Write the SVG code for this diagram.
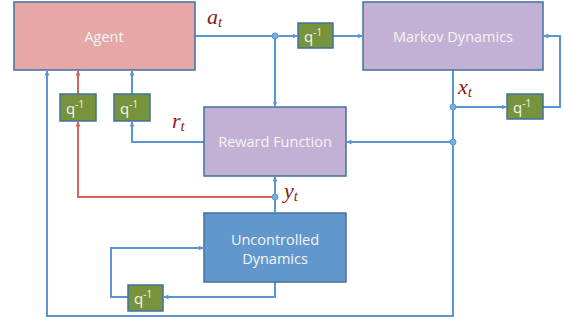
<svg xmlns="http://www.w3.org/2000/svg" width="564" height="320" viewBox="0 0 564 320">
<style>
.box{stroke:#41719c;stroke-width:1.5}
.agent{fill:#e5a8a7}
.purple{fill:#c2b1d4}
.unc{fill:#6197cc}
.q{fill:#77933c;stroke:#41719c;stroke-width:1.5}
.lbl{font-family:"Open Sans","Noto Sans",sans-serif;font-size:14.5px;fill:#f5f5f5;text-anchor:middle}
.ql{font-family:"Open Sans","Noto Sans",sans-serif;font-size:15px;fill:#f5f5f5}
.math{font-family:"Liberation Serif","DejaVu Serif",serif;font-style:italic;fill:#8b1a1a}
.b{stroke:#5b96d2;stroke-width:2;fill:none}
.r{stroke:#d0655d;stroke-width:2;fill:none}
.dot{fill:#7aaee0;stroke:#5b96d2;stroke-width:1}
</style>
<defs>
<marker id="ab" viewBox="0 0 10 10" refX="9" refY="5" markerWidth="5" markerHeight="5" orient="auto" markerUnits="userSpaceOnUse"><path d="M0,0L10,5L0,10z" fill="#5b96d2"/></marker>
<marker id="ar" viewBox="0 0 10 10" refX="9" refY="5" markerWidth="5" markerHeight="5" orient="auto" markerUnits="userSpaceOnUse"><path d="M0,0L10,5L0,10z" fill="#d0655d"/></marker>
</defs>
<g id="connectors">
<path class="b" d="M195,36H297" marker-end="url(#ab)"/>
<path class="b" d="M275,36V106" marker-end="url(#ab)"/>
<path class="b" d="M333,36H362" marker-end="url(#ab)"/>
<path class="b" d="M453,70V316H47V71" marker-end="url(#ab)"/>
<path class="b" d="M453,107H506" marker-end="url(#ab)"/>
<path class="b" d="M543,107H560V36H544" marker-end="url(#ab)"/>
<path class="b" d="M453,142H347" marker-end="url(#ab)"/>
<path class="b" d="M204,142H132V122" marker-end="url(#ab)"/>
<path class="b" d="M132,94V71" marker-end="url(#ab)"/>
<path class="r" d="M275,197H78V122" marker-end="url(#ar)"/>
<path class="r" d="M78,94V71" marker-end="url(#ar)"/>
<path class="b" d="M275,212V177" marker-end="url(#ab)"/>
<path class="b" d="M275,282V297H164" marker-end="url(#ab)"/>
<path class="b" d="M128,297H111V248H203" marker-end="url(#ab)"/>
<circle class="dot" cx="275" cy="36" r="3"/>
<circle class="dot" cx="453" cy="107" r="3"/>
<circle class="dot" cx="453" cy="142" r="3"/>
<circle class="dot" cx="275" cy="197" r="3"/>
</g>
<g id="agent"><rect class="box agent" x="14" y="2" width="181" height="68"/><text class="lbl" x="104" y="42">Agent</text></g>
<g id="markov"><rect class="box purple" x="363" y="2" width="180" height="68"/><text class="lbl" x="453" y="42">Markov Dynamics</text></g>
<g id="reward"><rect class="box purple" x="204" y="107" width="142" height="69"/><text class="lbl" x="275" y="147">Reward Function</text></g>
<g id="uncontrolled"><rect class="box unc" x="204" y="213" width="142" height="69"/><text class="lbl" x="275" y="245">Uncontrolled</text><text class="lbl" x="275" y="264">Dynamics</text></g>
<g id="q_action"><rect class="q" x="298" y="23" width="35" height="25"/><text class="ql" x="304" y="42">q<tspan font-size="10" dy="-6">-1</tspan></text></g>
<g id="q_state"><rect class="q" x="507" y="94" width="36" height="25"/><text class="ql" x="513" y="113">q<tspan font-size="10" dy="-6">-1</tspan></text></g>
<g id="q_y"><rect class="q" x="60" y="94" width="36" height="27"/><text class="ql" x="66" y="114">q<tspan font-size="10" dy="-6">-1</tspan></text></g>
<g id="q_r"><rect class="q" x="114" y="94" width="36" height="27"/><text class="ql" x="120" y="114">q<tspan font-size="10" dy="-6">-1</tspan></text></g>
<g id="q_u"><rect class="q" x="128" y="285" width="35" height="26"/><text class="ql" x="134" y="304">q<tspan font-size="10" dy="-6">-1</tspan></text></g>
<g id="labels">
<text class="math" x="207" y="24" font-size="22">a<tspan font-size="15" dy="3">t</tspan></text>
<text class="math" x="458" y="94" font-size="22">x<tspan font-size="15" dy="3">t</tspan></text>
<text class="math" x="172" y="128" font-size="22">r<tspan font-size="15" dy="3">t</tspan></text>
<text class="math" x="284" y="198" font-size="22">y<tspan font-size="15" dy="3">t</tspan></text>
</g>
</svg>
